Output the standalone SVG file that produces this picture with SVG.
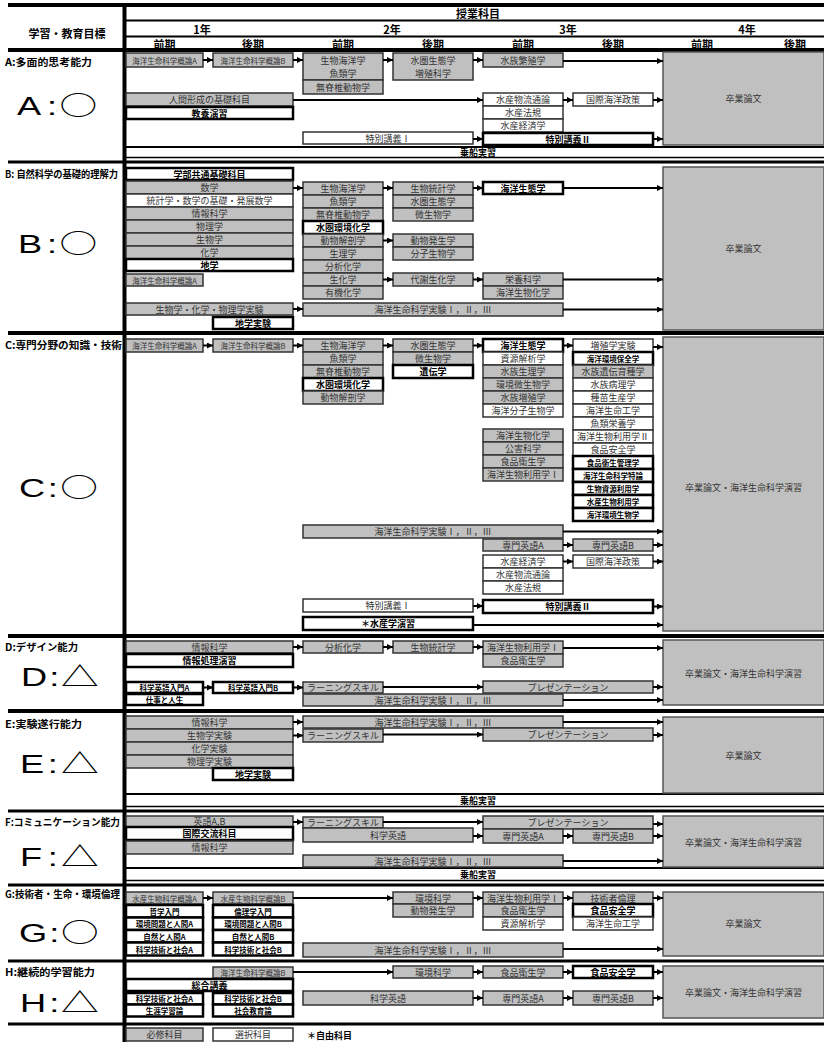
<svg xmlns="http://www.w3.org/2000/svg" width="824" height="1043" viewBox="0 0 824 1043">
<defs>
<style>
.g{fill:#c0c0c0;stroke:#333;stroke-width:1.5}
.w{fill:#fff;stroke:#333;stroke-width:1.5}
.b{fill:#fff;stroke:#000;stroke-width:2.5}
.p{fill:#c0c0c0;stroke:#555;stroke-width:1.5}
text{font-family:"Noto Sans CJK JP","Noto Sans CJK SC",sans-serif}
.t{font-size:9px;fill:#333;text-anchor:middle;dominant-baseline:central}
.s{font-size:7.5px}
.k{font-weight:bold;fill:#000}
.h{font-size:11px;font-weight:bold;fill:#000;text-anchor:middle;dominant-baseline:central}
.lab{font-size:10px;font-weight:bold;fill:#000}
.big{font-family:"Liberation Sans",Arial,sans-serif;font-size:25px;fill:#000}
.sym{font-family:"Noto Sans CJK JP",sans-serif;font-size:26px}
#rules line{stroke:#000}
#connectors line{stroke:#000;stroke-width:2;marker-end:url(#ah)}
</style>
<marker id="ah" markerWidth="6" markerHeight="6" refX="6" refY="3" orient="auto" markerUnits="userSpaceOnUse"><path d="M0,0L6,3L0,6z" fill="#000"/></marker>
</defs>
<rect width="824" height="1043" fill="#fff"/>

<!-- table rules -->
<g id="rules">
<line x1="8" y1="5" x2="824" y2="5" stroke-width="4"/>
<line x1="124.5" y1="5" x2="124.5" y2="1042" stroke-width="4"/>
<line x1="126" y1="20.5" x2="824" y2="20.5" stroke-width="2"/>
<line x1="126" y1="36.5" x2="824" y2="36.5" stroke-width="2"/>
<line x1="8" y1="50" x2="824" y2="50" stroke-width="4"/>
<line x1="126" y1="147" x2="824" y2="147" stroke-width="2"/>
<line x1="126" y1="157.5" x2="824" y2="157.5" stroke-width="1.5"/>
<line x1="8" y1="162" x2="824" y2="162" stroke-width="3"/>
<line x1="8" y1="333" x2="824" y2="333" stroke-width="4"/>
<line x1="8" y1="636" x2="824" y2="636" stroke-width="4"/>
<line x1="8" y1="711" x2="824" y2="711" stroke-width="4"/>
<line x1="126" y1="794" x2="824" y2="794" stroke-width="2"/>
<line x1="126" y1="806.5" x2="824" y2="806.5" stroke-width="1.5"/>
<line x1="8" y1="811" x2="824" y2="811" stroke-width="3"/>
<line x1="126" y1="868" x2="824" y2="868" stroke-width="2"/>
<line x1="126" y1="880.5" x2="824" y2="880.5" stroke-width="1.5"/>
<line x1="8" y1="885" x2="824" y2="885" stroke-width="3"/>
<line x1="8" y1="961" x2="824" y2="961" stroke-width="3"/>
<line x1="8" y1="1024" x2="824" y2="1024" stroke-width="3"/>
</g>

<!-- header -->
<g id="header">
<text class="h" x="67" y="33">学習・教育目標</text>
<text class="h" x="478" y="13">授業科目</text>
<text class="h" x="202" y="29">1年</text>
<text class="h" x="392" y="29">2年</text>
<text class="h" x="568" y="29">3年</text>
<text class="h" x="747" y="29">4年</text>
<text class="h" x="164.5" y="43.5">前期</text>
<text class="h" x="253" y="43.5">後期</text>
<text class="h" x="343" y="43.5">前期</text>
<text class="h" x="433" y="43.5">後期</text>
<text class="h" x="523" y="43.5">前期</text>
<text class="h" x="613" y="43.5">後期</text>
<text class="h" x="702" y="43.5">前期</text>
<text class="h" x="795" y="43.5">後期</text>
</g>

<!-- goal labels -->
<g id="goals">
<text class="lab" x="5" y="66" textLength="87" lengthAdjust="spacingAndGlyphs">A:多面的思考能力</text>
<text class="big" transform="translate(0,115) scale(1.45,1)"><tspan x="11.7">A</tspan><tspan x="32.5">:</tspan><tspan class="sym" x="41">○</tspan></text>
<text class="lab" x="5" y="178" textLength="113" lengthAdjust="spacingAndGlyphs">B: 自然科学の基礎的理解力</text>
<text class="big" transform="translate(0,253) scale(1.45,1)"><tspan x="12.4">B</tspan><tspan x="32.5">:</tspan><tspan class="sym" x="41">○</tspan></text>
<text class="lab" x="5" y="349" textLength="117" lengthAdjust="spacingAndGlyphs">C:専門分野の知識・技術</text>
<text class="big" transform="translate(0,497) scale(1.45,1)"><tspan x="13.1">C</tspan><tspan x="33">:</tspan><tspan class="sym" x="41.5">○</tspan></text>
<text class="lab" x="5" y="651" textLength="73" lengthAdjust="spacingAndGlyphs">D:デザイン能力</text>
<text class="big" transform="translate(0,686) scale(1.45,1)"><tspan x="14.5">D</tspan><tspan x="34">:</tspan><tspan class="sym" x="42">△</tspan></text>
<text class="lab" x="5" y="728" textLength="77" lengthAdjust="spacingAndGlyphs">E:実験遂行能力</text>
<text class="big" transform="translate(0,773) scale(1.45,1)"><tspan x="13.8">E</tspan><tspan x="33">:</tspan><tspan class="sym" x="42">△</tspan></text>
<text class="lab" x="5" y="826" textLength="115" lengthAdjust="spacingAndGlyphs">F:コミュニケーション能力</text>
<text class="big" transform="translate(0,866) scale(1.45,1)"><tspan x="13.8">F</tspan><tspan x="33">:</tspan><tspan class="sym" x="42">△</tspan></text>
<text class="lab" x="5" y="898" textLength="115" lengthAdjust="spacingAndGlyphs">G:技術者・生命・環境倫理</text>
<text class="big" transform="translate(0,942) scale(1.45,1)"><tspan x="13.1">G</tspan><tspan x="34">:</tspan><tspan class="sym" x="42">○</tspan></text>
<text class="lab" x="5" y="976" textLength="90" lengthAdjust="spacingAndGlyphs">H:継続的学習能力</text>
<text class="big" transform="translate(0,1012) scale(1.45,1)"><tspan x="13.8">H</tspan><tspan x="34">:</tspan><tspan class="sym" x="42">△</tspan></text>
</g>

<!-- band labels -->
<g id="bands">
<text class="t k" x="478" y="152.5" font-size="10">乗船実習</text>
<text class="t k" x="478" y="800.5" font-size="10">乗船実習</text>
<text class="t k" x="478" y="874.5" font-size="10">乗船実習</text>
</g>

<!-- section A -->
<g id="a-gairon-a"><rect class="g" x="126" y="53" width="77" height="14"/><text class="t s" x="164.5" y="60">海洋生命科学概論A</text></g>
<g id="a-gairon-b"><rect class="g" x="213" y="53" width="80" height="14"/><text class="t s" x="253" y="60">海洋生命科学概論B</text></g>
<g id="a-y2-first"><rect class="g" x="303" y="53" width="80" height="27"/><text class="t" x="343" y="60">生物海洋学</text><text class="t" x="343" y="73">魚類学</text><rect class="g" x="303" y="80" width="80" height="14"/><text class="t" x="343" y="87">無脊椎動物学</text></g>
<g id="a-y2-second"><rect class="g" x="393" y="53" width="80" height="27"/><text class="t" x="433" y="60">水圏生態学</text><text class="t" x="433" y="73">増殖科学</text></g>
<g id="a-hanshoku"><rect class="g" x="483" y="53" width="80" height="14"/><text class="t" x="523" y="60">水族繁殖学</text></g>
<g id="a-thesis"><rect class="p" x="663" y="52" width="161" height="93"/><text class="t" x="743.5" y="98">卒業論文</text></g>
<g id="a-ningen"><rect class="g" x="126" y="93" width="167" height="13"/><text class="t" x="209.5" y="99.5">人間形成の基礎科目</text></g>
<g id="a-kyoyo"><rect class="b" x="126" y="107" width="167" height="12"/><text class="t k" x="209.5" y="113">教養演習</text></g>
<g id="a-suisan"><rect class="w" x="483" y="93" width="80" height="13"/><text class="t" x="523" y="99.5">水産物流通論</text><rect class="w" x="483" y="106" width="80" height="13"/><text class="t" x="523" y="112.5">水産法規</text><rect class="w" x="483" y="119" width="80" height="13"/><text class="t" x="523" y="125.5">水産経済学</text></g>
<g id="a-kokusai"><rect class="w" x="573" y="93" width="80" height="13"/><text class="t" x="613" y="99.5">国際海洋政策</text></g>
<g id="a-tokubetsu1"><rect class="w" x="303" y="132" width="170" height="12"/><text class="t" x="388" y="138">特別講義Ⅰ</text></g>
<g id="a-tokubetsu2"><rect class="b" x="483" y="133" width="170" height="12"/><text class="t k" x="568" y="139">特別講義Ⅱ</text></g>

<!-- section B -->
<g id="b-kiso"><rect class="b" x="126" y="168" width="167" height="12"/><text class="t k" x="209.5" y="174">学部共通基礎科目</text>
<rect class="g" x="126" y="181" width="167" height="13"/><text class="t" x="209.5" y="187.5">数学</text>
<rect class="w" x="126" y="194" width="167" height="13"/><text class="t" x="209.5" y="200.5">統計学・数学の基礎・発展数学</text>
<rect class="g" x="126" y="207" width="167" height="13"/><text class="t" x="209.5" y="213.5">情報科学</text>
<rect class="g" x="126" y="220" width="167" height="13"/><text class="t" x="209.5" y="226.5">物理学</text>
<rect class="g" x="126" y="233" width="167" height="13"/><text class="t" x="209.5" y="239.5">生物学</text>
<rect class="g" x="126" y="246" width="167" height="13"/><text class="t" x="209.5" y="252.5">化学</text>
<rect class="b" x="126" y="259" width="167" height="12"/><text class="t k" x="209.5" y="265">地学</text></g>
<g id="b-gairon-a"><rect class="g" x="126" y="274" width="77" height="12"/><text class="t s" x="164.5" y="280">海洋生命科学概論A</text></g>
<g id="b-y2-first"><rect class="g" x="303" y="182" width="80" height="13"/><text class="t" x="343" y="188.5">生物海洋学</text>
<rect class="g" x="303" y="195" width="80" height="13"/><text class="t" x="343" y="201.5">魚類学</text>
<rect class="g" x="303" y="208" width="80" height="13"/><text class="t" x="343" y="214.5">無脊椎動物学</text>
<rect class="b" x="303" y="221" width="80" height="13"/><text class="t k" x="343" y="227.5">水圏環境化学</text>
<rect class="g" x="303" y="234" width="80" height="13"/><text class="t" x="343" y="240.5">動物解剖学</text>
<rect class="g" x="303" y="247" width="80" height="13"/><text class="t" x="343" y="253.5">生理学</text>
<rect class="g" x="303" y="260" width="80" height="13"/><text class="t" x="343" y="266.5">分析化学</text>
<rect class="g" x="303" y="273" width="80" height="13"/><text class="t" x="343" y="279.5">生化学</text>
<rect class="g" x="303" y="286" width="80" height="13"/><text class="t" x="343" y="292.5">有機化学</text></g>
<g id="b-y2-second"><rect class="g" x="393" y="182" width="80" height="13"/><text class="t" x="433" y="188.5">生物統計学</text>
<rect class="g" x="393" y="195" width="80" height="13"/><text class="t" x="433" y="201.5">水圏生態学</text>
<rect class="g" x="393" y="208" width="80" height="13"/><text class="t" x="433" y="214.5">微生物学</text></g>
<g id="b-hassei"><rect class="g" x="393" y="234" width="80" height="13"/><text class="t" x="433" y="240.5">動物発生学</text>
<rect class="g" x="393" y="247" width="80" height="13"/><text class="t" x="433" y="253.5">分子生物学</text></g>
<g id="b-taisha"><rect class="g" x="393" y="273" width="80" height="13"/><text class="t" x="433" y="279.5">代謝生化学</text></g>
<g id="b-seitai"><rect class="b" x="483" y="182" width="80" height="12"/><text class="t k" x="523" y="188">海洋生態学</text></g>
<g id="b-eiyo"><rect class="g" x="483" y="273" width="80" height="13"/><text class="t" x="523" y="279.5">栄養科学</text>
<rect class="g" x="483" y="286" width="80" height="13"/><text class="t" x="523" y="292.5">海洋生物化学</text></g>
<g id="b-thesis"><rect class="p" x="663" y="167" width="161" height="163"/><text class="t" x="743.5" y="248">卒業論文</text></g>
<g id="b-jikken1"><rect class="g" x="126" y="303" width="167" height="12"/><text class="t" x="209.5" y="309">生物学・化学・物理学実験</text></g>
<g id="b-jikken2"><rect class="g" x="303" y="303" width="260" height="13"/><text class="t" x="433" y="309.5">海洋生命科学実験Ⅰ，Ⅱ，Ⅲ</text></g>
<g id="b-chigaku"><rect class="b" x="213" y="317" width="80" height="12"/><text class="t k" x="253" y="323">地学実験</text></g>

<!-- section C -->
<g id="c-gairon-a"><rect class="g" x="126" y="339" width="77" height="13"/><text class="t s" x="164.5" y="345.5">海洋生命科学概論A</text></g>
<g id="c-gairon-b"><rect class="g" x="213" y="339" width="80" height="13"/><text class="t s" x="253" y="345.5">海洋生命科学概論B</text></g>
<g id="c-y2-first"><rect class="g" x="303" y="339" width="80" height="13"/><text class="t" x="343" y="345.5">生物海洋学</text>
<rect class="g" x="303" y="352" width="80" height="13"/><text class="t" x="343" y="358.5">魚類学</text>
<rect class="g" x="303" y="365" width="80" height="13"/><text class="t" x="343" y="371.5">無脊椎動物学</text>
<rect class="b" x="303" y="378" width="80" height="13"/><text class="t k" x="343" y="384.5">水圏環境化学</text>
<rect class="g" x="303" y="391" width="80" height="13"/><text class="t" x="343" y="397.5">動物解剖学</text></g>
<g id="c-y2-second"><rect class="g" x="393" y="339" width="80" height="13"/><text class="t" x="433" y="345.5">水圏生態学</text>
<rect class="g" x="393" y="352" width="80" height="13"/><text class="t" x="433" y="358.5">微生物学</text>
<rect class="b" x="393" y="365" width="80" height="13"/><text class="t k" x="433" y="371.5">遺伝学</text></g>
<g id="c-y3-first"><rect class="b" x="483" y="339" width="80" height="13"/><text class="t k" x="523" y="345.5">海洋生態学</text>
<rect class="w" x="483" y="352" width="80" height="13"/><text class="t" x="523" y="358.5">資源解析学</text>
<rect class="g" x="483" y="365" width="80" height="13"/><text class="t" x="523" y="371.5">水族生理学</text>
<rect class="g" x="483" y="378" width="80" height="13"/><text class="t" x="523" y="384.5">環境微生物学</text>
<rect class="g" x="483" y="391" width="80" height="13"/><text class="t" x="523" y="397.5">水族増殖学</text>
<rect class="w" x="483" y="404" width="80" height="13"/><text class="t" x="523" y="410.5">海洋分子生物学</text></g>
<g id="c-y3-chem"><rect class="g" x="483" y="429" width="80" height="13"/><text class="t" x="523" y="435.5">海洋生物化学</text>
<rect class="g" x="483" y="442" width="80" height="13"/><text class="t" x="523" y="448.5">公害科学</text>
<rect class="g" x="483" y="455" width="80" height="13"/><text class="t" x="523" y="461.5">食品衛生学</text>
<rect class="g" x="483" y="468" width="80" height="13"/><text class="t" x="523" y="474.5">海洋生物利用学Ⅰ</text></g>
<g id="c-y3-second"><rect class="w" x="573" y="339" width="80" height="13"/><text class="t" x="613" y="345.5">増殖学実験</text>
<rect class="b" x="573" y="352" width="80" height="13"/><text class="t k s" x="613" y="358.5">海洋環境保全学</text>
<rect class="g" x="573" y="365" width="80" height="13"/><text class="t" x="613" y="371.5">水族遺伝育種学</text>
<rect class="w" x="573" y="378" width="80" height="13"/><text class="t" x="613" y="384.5">水族病理学</text>
<rect class="w" x="573" y="391" width="80" height="13"/><text class="t" x="613" y="397.5">種苗生産学</text>
<rect class="w" x="573" y="404" width="80" height="13"/><text class="t" x="613" y="410.5">海洋生命工学</text>
<rect class="w" x="573" y="417" width="80" height="13"/><text class="t" x="613" y="423.5">魚類栄養学</text>
<rect class="w" x="573" y="430" width="80" height="13"/><text class="t" x="613" y="436.5">海洋生物利用学Ⅱ</text>
<rect class="w" x="573" y="443" width="80" height="13"/><text class="t" x="613" y="449.5">食品安全学</text>
<rect class="b" x="573" y="456" width="80" height="13"/><text class="t k s" x="613" y="462.5">食品衛生管理学</text>
<rect class="b" x="573" y="469" width="80" height="13"/><text class="t k s" x="613" y="475.5">海洋生命科学特論</text>
<rect class="b" x="573" y="482" width="80" height="13"/><text class="t k s" x="613" y="488.5">生物資源利用学</text>
<rect class="b" x="573" y="495" width="80" height="13"/><text class="t k s" x="613" y="501.5">水産生物利用学</text>
<rect class="b" x="573" y="508" width="80" height="13"/><text class="t k s" x="613" y="514.5">海洋環境生物学</text></g>
<g id="c-thesis"><rect class="p" x="663" y="337" width="161" height="294"/><text class="t" x="743.5" y="487">卒業論文・海洋生命科学演習</text></g>
<g id="c-jikken"><rect class="g" x="303" y="525" width="260" height="13"/><text class="t" x="433" y="531.5">海洋生命科学実験Ⅰ，Ⅱ，Ⅲ</text></g>
<g id="c-eigo-a"><rect class="g" x="483" y="539" width="80" height="12"/><text class="t" x="523" y="545">専門英語A</text></g>
<g id="c-eigo-b"><rect class="g" x="573" y="539" width="80" height="12"/><text class="t" x="613" y="545">専門英語B</text></g>
<g id="c-suisan"><rect class="w" x="483" y="555" width="80" height="13"/><text class="t" x="523" y="561.5">水産経済学</text>
<rect class="w" x="483" y="568" width="80" height="13"/><text class="t" x="523" y="574.5">水産物流通論</text>
<rect class="w" x="483" y="581" width="80" height="13"/><text class="t" x="523" y="587.5">水産法規</text></g>
<g id="c-kokusai"><rect class="w" x="573" y="555" width="80" height="13"/><text class="t" x="613" y="561.5">国際海洋政策</text></g>
<g id="c-tokubetsu1"><rect class="w" x="303" y="599" width="170" height="13"/><text class="t" x="388" y="605.5">特別講義Ⅰ</text></g>
<g id="c-tokubetsu2"><rect class="b" x="483" y="600" width="170" height="13"/><text class="t k" x="568" y="606.5">特別講義Ⅱ</text></g>
<g id="c-enshu"><rect class="b" x="303" y="617" width="170" height="13"/><text class="t k" x="388" y="623.5">＊水産学演習</text></g>

<!-- section D -->
<g id="d-joho"><rect class="g" x="126" y="641" width="167" height="12"/><text class="t" x="209.5" y="647">情報科学</text></g>
<g id="d-joho-enshu"><rect class="b" x="126" y="654" width="167" height="13"/><text class="t k" x="209.5" y="660.5">情報処理演習</text></g>
<g id="d-bunseki"><rect class="g" x="303" y="641" width="80" height="12"/><text class="t" x="343" y="647">分析化学</text></g>
<g id="d-toukei"><rect class="g" x="393" y="641" width="80" height="12"/><text class="t" x="433" y="647">生物統計学</text></g>
<g id="d-riyou"><rect class="g" x="483" y="641" width="80" height="13"/><text class="t" x="523" y="647.5">海洋生物利用学Ⅰ</text>
<rect class="g" x="483" y="654" width="80" height="13"/><text class="t" x="523" y="660.5">食品衛生学</text></g>
<g id="d-thesis"><rect class="p" x="663" y="640" width="161" height="65"/><text class="t" x="743.5" y="673">卒業論文・海洋生命科学演習</text></g>
<g id="d-kagaku-a"><rect class="b" x="126" y="682" width="77" height="11"/><text class="t k s" x="164.5" y="687.5">科学英語入門A</text></g>
<g id="d-kagaku-b"><rect class="b" x="213" y="682" width="80" height="11"/><text class="t k s" x="253" y="687.5">科学英語入門B</text></g>
<g id="d-learning"><rect class="g" x="303" y="682" width="80" height="11"/><text class="t" x="343" y="687.5">ラーニングスキル</text></g>
<g id="d-present"><rect class="g" x="483" y="681" width="170" height="12"/><text class="t" x="568" y="687">プレゼンテーション</text></g>
<g id="d-shigoto"><rect class="b" x="126" y="694" width="77" height="11"/><text class="t k s" x="164.5" y="699.5">仕事と人生</text></g>
<g id="d-jikken"><rect class="g" x="303" y="694" width="260" height="12"/><text class="t" x="433" y="700">海洋生命科学実験Ⅰ，Ⅱ，Ⅲ</text></g>

<!-- section E -->
<g id="e-kiso"><rect class="g" x="126" y="716" width="167" height="13"/><text class="t" x="209.5" y="722.5">情報科学</text>
<rect class="g" x="126" y="729" width="167" height="13"/><text class="t" x="209.5" y="735.5">生物学実験</text>
<rect class="g" x="126" y="742" width="167" height="13"/><text class="t" x="209.5" y="748.5">化学実験</text>
<rect class="g" x="126" y="755" width="167" height="13"/><text class="t" x="209.5" y="761.5">物理学実験</text></g>
<g id="e-chigaku"><rect class="b" x="213" y="768" width="80" height="12"/><text class="t k" x="253" y="774">地学実験</text></g>
<g id="e-jikken"><rect class="g" x="303" y="716" width="260" height="12"/><text class="t" x="433" y="722">海洋生命科学実験Ⅰ，Ⅱ，Ⅲ</text></g>
<g id="e-learning"><rect class="g" x="303" y="729" width="80" height="13"/><text class="t" x="343" y="735.5">ラーニングスキル</text></g>
<g id="e-present"><rect class="g" x="483" y="728" width="170" height="13"/><text class="t" x="568" y="734.5">プレゼンテーション</text></g>
<g id="e-thesis"><rect class="p" x="663" y="717" width="161" height="76"/><text class="t" x="743.5" y="755">卒業論文</text></g>

<!-- section F -->
<g id="f-kiso"><rect class="g" x="126" y="816" width="167" height="11"/><text class="t" x="209.5" y="821.5">英語A,B</text>
<rect class="b" x="126" y="827" width="167" height="13"/><text class="t k" x="209.5" y="833.5">国際交流科目</text>
<rect class="g" x="126" y="841" width="167" height="13"/><text class="t" x="209.5" y="847.5">情報科学</text></g>
<g id="f-learning"><rect class="g" x="303" y="817" width="80" height="11"/><text class="t" x="343" y="822.5">ラーニングスキル</text></g>
<g id="f-kagaku"><rect class="g" x="303" y="828" width="170" height="14"/><text class="t" x="388" y="835">科学英語</text></g>
<g id="f-present"><rect class="g" x="483" y="816" width="170" height="13"/><text class="t" x="568" y="822.5">プレゼンテーション</text></g>
<g id="f-eigo-a"><rect class="g" x="483" y="829" width="80" height="14"/><text class="t" x="523" y="836">専門英語A</text></g>
<g id="f-eigo-b"><rect class="g" x="573" y="829" width="80" height="14"/><text class="t" x="613" y="836">専門英語B</text></g>
<g id="f-thesis"><rect class="p" x="663" y="816" width="161" height="51"/><text class="t" x="743.5" y="842">卒業論文・海洋生命科学演習</text></g>
<g id="f-jikken"><rect class="g" x="303" y="855" width="260" height="12"/><text class="t" x="433" y="861">海洋生命科学実験Ⅰ，Ⅱ，Ⅲ</text></g>

<!-- section G -->
<g id="g-gairon-a"><rect class="g" x="126" y="892" width="77" height="12"/><text class="t s" x="164.5" y="898">水産生物科学概論A</text></g>
<g id="g-gairon-b"><rect class="g" x="213" y="892" width="80" height="12"/><text class="t s" x="253" y="898">水産生物科学概論B</text></g>
<g id="g-free-a"><rect class="b" x="126" y="905" width="77" height="12.5"/><text class="t k s" x="164.5" y="911.25">哲学入門</text>
<rect class="b" x="126" y="917.5" width="77" height="12.5"/><text class="t k s" x="164.5" y="923.75">環境問題と人間A</text>
<rect class="b" x="126" y="930" width="77" height="12.5"/><text class="t k s" x="164.5" y="936.25">自然と人間A</text>
<rect class="b" x="126" y="942.5" width="77" height="13"/><text class="t k s" x="164.5" y="949">科学技術と社会A</text></g>
<g id="g-free-b"><rect class="b" x="213" y="905" width="80" height="12.5"/><text class="t k s" x="253" y="911.25">倫理学入門</text>
<rect class="b" x="213" y="917.5" width="80" height="12.5"/><text class="t k s" x="253" y="923.75">環境問題と人間B</text>
<rect class="b" x="213" y="930" width="80" height="12.5"/><text class="t k s" x="253" y="936.25">自然と人間B</text>
<rect class="b" x="213" y="942.5" width="80" height="13"/><text class="t k s" x="253" y="949">科学技術と社会B</text></g>
<g id="g-kankyo"><rect class="g" x="393" y="892" width="80" height="12"/><text class="t" x="433" y="898">環境科学</text>
<rect class="g" x="393" y="904" width="80" height="13"/><text class="t" x="433" y="910.5">動物発生学</text></g>
<g id="g-riyou"><rect class="g" x="483" y="892" width="80" height="12"/><text class="t" x="523" y="898">海洋生物利用学Ⅰ</text>
<rect class="g" x="483" y="904" width="80" height="13"/><text class="t" x="523" y="910.5">食品衛生学</text>
<rect class="w" x="483" y="917" width="80" height="13"/><text class="t" x="523" y="923.5">資源解析学</text></g>
<g id="g-rinri"><rect class="g" x="573" y="892" width="80" height="12"/><text class="t" x="613" y="898">技術者倫理</text>
<rect class="b" x="573" y="904" width="80" height="13"/><text class="t k" x="613" y="910.5">食品安全学</text>
<rect class="w" x="573" y="917" width="80" height="13"/><text class="t" x="613" y="923.5">海洋生命工学</text></g>
<g id="g-thesis"><rect class="p" x="663" y="892" width="161" height="64"/><text class="t" x="743.5" y="923">卒業論文</text></g>
<g id="g-jikken"><rect class="g" x="303" y="943" width="260" height="14"/><text class="t" x="433" y="950">海洋生命科学実験Ⅰ，Ⅱ，Ⅲ</text></g>

<!-- section H -->
<g id="h-gairon-b"><rect class="g" x="213" y="967" width="80" height="11"/><text class="t s" x="253" y="972.5">海洋生命科学概論B</text></g>
<g id="h-kankyo"><rect class="g" x="393" y="966" width="80" height="12"/><text class="t" x="433" y="972">環境科学</text></g>
<g id="h-eisei"><rect class="g" x="483" y="966" width="80" height="12"/><text class="t" x="523" y="972">食品衛生学</text></g>
<g id="h-anzen"><rect class="b" x="573" y="966" width="80" height="12"/><text class="t k" x="613" y="972">食品安全学</text></g>
<g id="h-sogo"><rect class="b" x="126" y="979" width="167" height="12"/><text class="t k" x="209.5" y="985">総合講義</text></g>
<g id="h-free-a"><rect class="b" x="126" y="993" width="77" height="11.5"/><text class="t k s" x="164.5" y="998.75">科学技術と社会A</text>
<rect class="b" x="126" y="1004.5" width="77" height="12"/><text class="t k s" x="164.5" y="1010.5">生涯学習論</text></g>
<g id="h-free-b"><rect class="b" x="213" y="993" width="80" height="11.5"/><text class="t k s" x="253" y="998.75">科学技術と社会B</text>
<rect class="b" x="213" y="1004.5" width="80" height="12"/><text class="t k s" x="253" y="1010.5">社会教育論</text></g>
<g id="h-kagaku"><rect class="g" x="303" y="991" width="170" height="14"/><text class="t" x="388" y="998">科学英語</text></g>
<g id="h-eigo-a"><rect class="g" x="483" y="991" width="80" height="14"/><text class="t" x="523" y="998">専門英語A</text></g>
<g id="h-eigo-b"><rect class="g" x="573" y="991" width="80" height="14"/><text class="t" x="613" y="998">専門英語B</text></g>
<g id="h-thesis"><rect class="p" x="663" y="966" width="161" height="52"/><text class="t" x="743.5" y="992">卒業論文・海洋生命科学演習</text></g>

<!-- legend -->
<g id="legend">
<rect class="g" x="126" y="1028" width="77" height="13" stroke-width="2"/><text class="t" x="164.5" y="1034.5">必修科目</text>
<rect class="w" x="213" y="1028" width="80" height="13" stroke-width="2"/><text class="t" x="253" y="1034.5">選択科目</text>
<text class="t k" x="307" y="1035" style="text-anchor:start" font-size="10">＊自由科目</text>
</g>

<!-- prerequisite arrows -->
<g id="connectors">
<line x1="203" y1="60" x2="213" y2="60"/>
<line x1="293" y1="60" x2="303" y2="60"/>
<line x1="383" y1="60" x2="393" y2="60"/>
<line x1="473" y1="60" x2="483" y2="60"/>
<line x1="563" y1="61" x2="663" y2="61"/>
<line x1="293" y1="100" x2="483" y2="100"/>
<line x1="563" y1="100" x2="573" y2="100"/>
<line x1="653" y1="100" x2="663" y2="100"/>
<line x1="473" y1="139" x2="483" y2="139"/>
<line x1="653" y1="139" x2="663" y2="139"/>

<line x1="293" y1="188" x2="303" y2="188"/>
<line x1="383" y1="188" x2="393" y2="188"/>
<line x1="473" y1="188" x2="483" y2="188"/>
<line x1="563" y1="188" x2="663" y2="188"/>
<line x1="383" y1="240.5" x2="393" y2="240.5"/>
<line x1="383" y1="279.5" x2="393" y2="279.5"/>
<line x1="473" y1="279.5" x2="483" y2="279.5"/>
<line x1="563" y1="279.5" x2="663" y2="279.5"/>
<line x1="293" y1="309" x2="303" y2="309"/>
<line x1="563" y1="309.5" x2="663" y2="309.5"/>

<line x1="203" y1="345.5" x2="213" y2="345.5"/>
<line x1="293" y1="345.5" x2="303" y2="345.5"/>
<line x1="383" y1="345.5" x2="393" y2="345.5"/>
<line x1="473" y1="345.5" x2="483" y2="345.5"/>
<line x1="563" y1="345.5" x2="573" y2="345.5"/>
<line x1="653" y1="347" x2="663" y2="347"/>
<line x1="563" y1="531.5" x2="663" y2="531.5"/>
<line x1="563" y1="545" x2="573" y2="545"/>
<line x1="653" y1="545" x2="663" y2="545"/>
<line x1="563" y1="561.5" x2="573" y2="561.5"/>
<line x1="653" y1="561.5" x2="663" y2="561.5"/>
<line x1="473" y1="606" x2="483" y2="606"/>
<line x1="653" y1="606.5" x2="663" y2="606.5"/>
<line x1="473" y1="625" x2="663" y2="625"/>

<line x1="293" y1="647" x2="303" y2="647"/>
<line x1="383" y1="647" x2="393" y2="647"/>
<line x1="473" y1="647" x2="483" y2="647"/>
<line x1="563" y1="648" x2="663" y2="648"/>
<line x1="203" y1="687.5" x2="213" y2="687.5"/>
<line x1="293" y1="687.5" x2="303" y2="687.5"/>
<line x1="383" y1="687" x2="483" y2="687"/>
<line x1="653" y1="687" x2="663" y2="687"/>
<line x1="563" y1="700" x2="663" y2="700"/>

<line x1="293" y1="722" x2="303" y2="722"/>
<line x1="293" y1="735.5" x2="303" y2="735.5"/>
<line x1="563" y1="722" x2="663" y2="722"/>
<line x1="383" y1="734.5" x2="483" y2="734.5"/>
<line x1="653" y1="735" x2="663" y2="735"/>

<line x1="293" y1="822" x2="303" y2="822"/>
<line x1="383" y1="822" x2="483" y2="822"/>
<line x1="473" y1="836" x2="483" y2="836"/>
<line x1="563" y1="836" x2="573" y2="836"/>
<line x1="653" y1="824" x2="663" y2="824"/>
<line x1="653" y1="836" x2="663" y2="836"/>
<line x1="563" y1="861" x2="663" y2="861"/>

<line x1="203" y1="898" x2="213" y2="898"/>
<line x1="293" y1="898" x2="393" y2="898"/>
<line x1="473" y1="898" x2="483" y2="898"/>
<line x1="563" y1="898" x2="573" y2="898"/>
<line x1="653" y1="898" x2="663" y2="898"/>
<line x1="563" y1="949" x2="663" y2="949"/>

<line x1="293" y1="972" x2="393" y2="972"/>
<line x1="473" y1="972" x2="483" y2="972"/>
<line x1="563" y1="972" x2="573" y2="972"/>
<line x1="653" y1="972" x2="663" y2="972"/>
<line x1="473" y1="998" x2="483" y2="998"/>
<line x1="563" y1="998" x2="573" y2="998"/>
<line x1="653" y1="998" x2="663" y2="998"/>
</g>
</svg>
